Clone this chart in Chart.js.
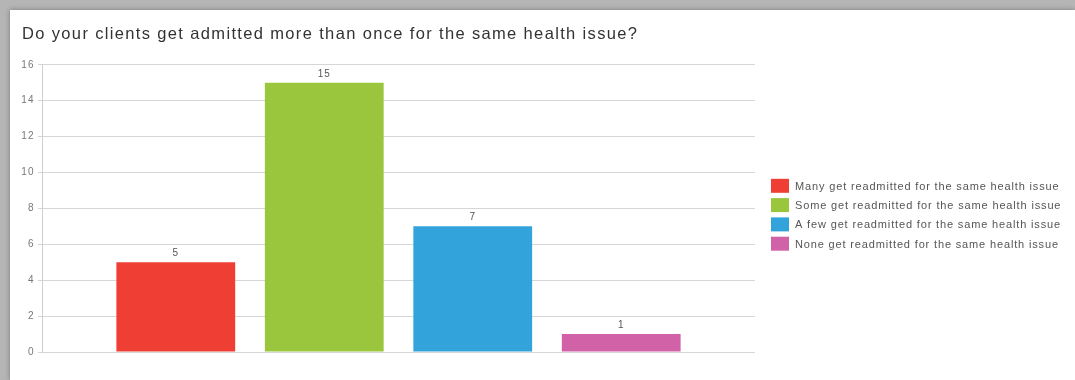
<!DOCTYPE html>
<html>
<head>
<meta charset="utf-8">
<script src="https://cdn.jsdelivr.net/npm/chart.js@4"></script>
<style>
  html, body { margin: 0; padding: 0; }
  body { width: 1075px; height: 380px; background: #b5b5b5; overflow: hidden; position: relative; }
  #card { position: absolute; left: 10px; top: 10px; width: 1065px; height: 370px; background: #fff; box-shadow: 0 0 5px rgba(0,0,0,0.35); }
</style>
</head>
<body>
<div id="card"><canvas id="barChart" width="1065" height="370"></canvas></div>
<script>
var title = 'Do your clients get admitted more than once for the same health issue?';
var answers = [
    'Many get readmitted for the same health issue',
    'Some get readmitted for the same health issue',
    'A few get readmitted for the same health issue',
    'None get readmitted for the same health issue'
];
var counts = [5, 15, 7, 1];
var colors = ['#ef3e33', '#9ac63d', '#33a3dc', '#d162a8'];
var yTicks = [0, 2, 4, 6, 8, 10, 12, 14, 16];

var fontFamily = '"Liberation Sans", Arial, sans-serif';

// one dataset per answer, like the original grouped chart
var datasets = answers.map(function (a, i) {
    return {
        label: a,
        data: [counts[i]],
        backgroundColor: colors[i],
        borderWidth: 0,
        categoryPercentage: 0.833,
        barPercentage: 0.8
    };
});

// the original text is rendered a bit wide, so space the letters out
var spacing = {
    id: 'spacing',
    beforeDraw: function (chart) { chart.ctx.letterSpacing = '1.35px'; }
};

// value printed above each bar
var valueLabels = {
    id: 'valueLabels',
    afterDatasetsDraw: function (chart) {
        var c = chart.ctx;
        c.save();
        c.letterSpacing = '1px';
        c.font = '10px ' + fontFamily;
        c.fillStyle = '#555';
        c.textAlign = 'center';
        c.textBaseline = 'bottom';
        chart.data.datasets.forEach(function (ds, i) {
            var bar = chart.getDatasetMeta(i).data[0];
            c.fillText(ds.data[0], bar.x, bar.y - 4);
        });
        c.restore();
    }
};

// legend at the right of the plot
var sideLegend = {
    id: 'sideLegend',
    afterDraw: function (chart) {
        var c = chart.ctx;
        var x = chart.chartArea.right + 16;
        var y = chart.chartArea.top + 121;
        c.save();
        c.letterSpacing = '0.85px';
        c.font = '11px ' + fontFamily;
        c.textBaseline = 'middle';
        c.textAlign = 'left';
        chart.data.datasets.forEach(function (ds, i) {
            var yc = y + i * 19.3;
            c.fillStyle = ds.backgroundColor;
            c.fillRect(x, yc - 7, 18, 14);
            c.fillStyle = '#555';
            c.fillText(ds.label, x + 24, yc + 1);
        });
        c.restore();
    }
};

var ctx = document.getElementById('barChart').getContext('2d');
var myChart = new Chart(ctx, {
    type: 'bar',
    data: {
        labels: [''],
        datasets: datasets
    },
    options: {
        responsive: false,
        animation: false,
        layout: { padding: { left: 12, right: 320, bottom: 28 } },
        plugins: {
            title: {
                display: true,
                text: title,
                align: 'start',
                color: '#333',
                font: { family: fontFamily, size: 16.5, weight: 'normal' },
                padding: { top: 15, bottom: 20 }
            },
            legend: { display: false },
            tooltip: { enabled: false }
        },
        scales: {
            x: { display: false },
            y: {
                min: 0,
                max: 16,
                afterBuildTicks: function (s) { s.ticks = yTicks.map(function (v) { return { value: v }; }); },
                afterFit: function (s) { s.width = 20; },
                ticks: {
                    color: '#777',
                    padding: 3,
                    font: { family: fontFamily, size: 10 }
                },
                grid: { color: '#d6d6d6', tickLength: 4 },
                border: { color: '#cfcfcf' }
            }
        }
    },
    plugins: [spacing, valueLabels, sideLegend]
});
</script>
</body>
</html>
